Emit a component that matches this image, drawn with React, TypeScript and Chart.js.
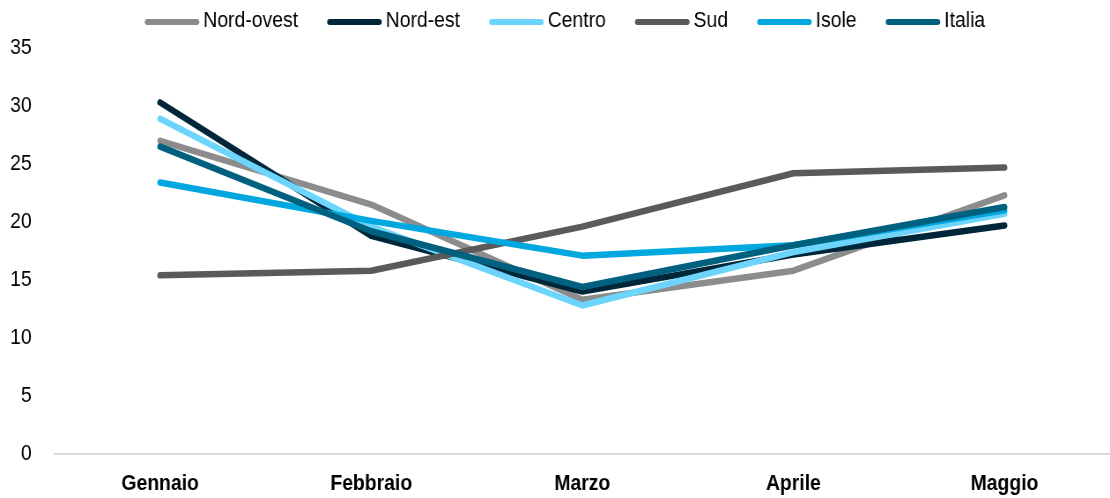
import { useEffect, useRef } from 'react';
import { Chart, registerables } from 'chart.js';

Chart.register(...registerables);

const categories = ['Gennaio', 'Febbraio', 'Marzo', 'Aprile', 'Maggio'];
const nordOvest = [27.0, 21.5, 13.3, 15.8, 22.3];
const nordEst = [30.3, 18.8, 14.0, 17.2, 19.7];
const centro = [28.9, 19.6, 12.8, 17.4, 20.7];
const sud = [15.4, 15.8, 19.6, 24.2, 24.7];
const isole = [23.4, 20.1, 17.1, 18.0, 21.0];
const italia = [26.5, 19.2, 14.4, 18.0, 21.3];
const yTicks = { min: 0, max: 35, step: 5 };

const seriesNames = ['Nord-ovest', 'Nord-est', 'Centro', 'Sud', 'Isole', 'Italia'];
const seriesValues = [nordOvest, nordEst, centro, sud, isole, italia];
const seriesColors = ['#8c8c8c', '#00263a', '#6dd5fc', '#5a5a5a', '#00a8df', '#00607f'];

const W = 1110;
const H = 498;
const SX = 1.135;
const CW = Math.round(W * SX);
const FONT = 'Liberation Sans, Arial, Helvetica, sans-serif';

const legendPlugin = {
  id: 'lineLegend',
  afterDraw(chart: any) {
    const ctx = chart.ctx;
    ctx.save();
    ctx.font = `22px ${FONT}`;
    ctx.textBaseline = 'middle';
    ctx.textAlign = 'left';
    const boxW = 62;
    const boxH = 6;
    const gapText = 4.5;
    const gapItem = 33;
    const items = chart.data.datasets.map((d: any) => ({
      label: d.label,
      color: d.borderColor,
      tw: ctx.measureText(d.label).width,
    }));
    const total =
      items.reduce((s: number, it: any) => s + boxW + gapText + it.tw, 0) + gapItem * (items.length - 1);
    let x = 565 * SX - total / 2;
    const boxY = 22;
    const textY = 21;
    items.forEach((it: any) => {
      ctx.fillStyle = it.color;
      ctx.beginPath();
      (ctx as any).roundRect(x, boxY - boxH / 2, boxW, boxH, boxH / 2);
      ctx.fill();
      x += boxW + gapText;
      ctx.fillStyle = '#000';
      ctx.fillText(it.label, x, textY);
      x += it.tw + gapItem;
    });
    ctx.restore();
  },
};

export default function App() {
  const ref = useRef<HTMLCanvasElement | null>(null);
  useEffect(() => {
    document.body.style.margin = '0';
    const canvas = ref.current;
    if (!canvas) return;
    const chart = new Chart(canvas, {
      type: 'line',
      data: {
        labels: categories,
        datasets: seriesNames.map((name, i) => ({
          label: name,
          data: seriesValues[i],
          borderColor: seriesColors[i],
          backgroundColor: seriesColors[i],
          borderWidth: 6.5,
          borderCapStyle: 'round',
          borderJoinStyle: 'round',
          pointRadius: 0,
          tension: 0,
          fill: false,
          order: seriesNames.length - i,
        })),
      },
      options: {
        responsive: false,
        animation: false,
        devicePixelRatio: 1,
        layout: { padding: { left: 0, right: 0, top: 48, bottom: 0 } },
        plugins: {
          tooltip: { enabled: false },
          legend: { display: false },
        },
        scales: {
          x: {
            offset: true,
            grid: { display: false, drawTicks: false, offset: true },
            border: { display: true, color: '#d9d9d9', width: 2 },
            ticks: {
              color: '#000',
              font: { family: FONT, size: 22, weight: 'bold' },
              padding: 17,
              maxRotation: 0,
            },
            afterFit: (s: any) => {
              s.height = 44;
            },
          },
          y: {
            min: yTicks.min,
            max: yTicks.max,
            grid: { display: false, drawTicks: false },
            border: { display: false },
            ticks: {
              stepSize: yTicks.step,
              color: '#000',
              font: { family: FONT, size: 22 },
              padding: 26,
            },
            afterFit: (s: any) => {
              s.width = 62;
            },
          },
        },
      } as any,
      plugins: [legendPlugin],
    });
    return () => chart.destroy();
  }, []);
  return (
    <div style={{ width: W, height: H }}>
      <canvas ref={ref} width={CW} height={H} style={{ width: W + 'px', height: H + 'px', display: 'block' }} />
    </div>
  );
}
